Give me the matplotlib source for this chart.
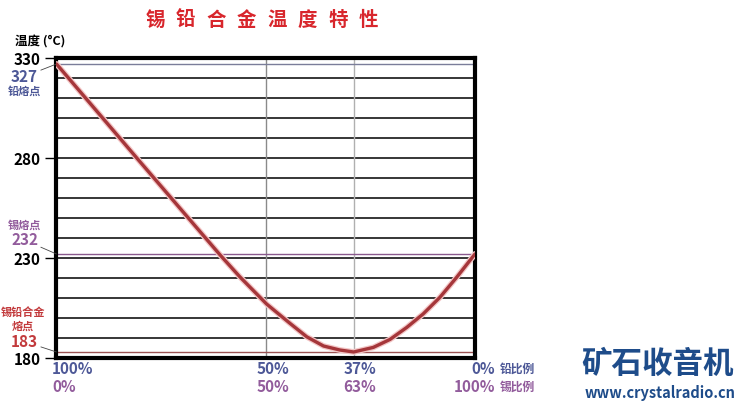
import matplotlib
matplotlib.use('Agg')
import matplotlib.pyplot as plt

plt.rcParams['font.family'] = ['Noto Sans CJK SC', 'DejaVu Sans']

# 横坐标为图上位置 (0 = 100%铅, 100 = 100%锡)，原图并非线性比例
pos = [0, 20, 39.1, 43.8, 50.2, 55.8, 59.8, 63.8, 67.7, 71, 75.7, 79.7, 83.7, 87.6, 91.6, 95.6, 100]
temp = [327, 278, 231.5, 220.6, 207, 197.3, 190.6, 186, 184, 183, 185.3, 189.3, 195.3, 202, 210.3, 220.3, 232]

yticks = [180, 230, 280, 330]
grid_y = list(range(190, 330, 10))
vgrid = [50, 71]
pb_labels = ['100%', '50%', '37%', '0%']
sn_labels = ['0%', '50%', '63%', '100%']
label_pos = [0, 50, 71, 100]

title = '锡铅合金温度特性'
blue = '#4d5897'
purple = '#925c9c'
red = '#c23a3c'

fig = plt.figure(figsize=(7.46, 4.07), dpi=100)
ax = fig.add_axes([56.5 / 746, 1 - 358 / 407, 418.5 / 746, 300 / 407])

for y in grid_y:
    ax.axhline(y, color='black', lw=1.1, zorder=1)
ax.axvline(vgrid[0], color='#8a8a8a', lw=1, zorder=1)
ax.axvline(vgrid[1], color='#b0b0b0', lw=1, zorder=1)
ax.axhline(327, color='#7a7d99', lw=1, zorder=2)
ax.axhline(232, color='#8a5a8e', lw=1, zorder=2)
ax.axhline(183, color='#9a5252', lw=1, zorder=2)

ax.plot(pos, temp, color='#f3c6c6', lw=4.2, solid_capstyle='round',
        solid_joinstyle='round', zorder=3)
ax.plot(pos, temp, color='#a5363a', lw=2.4, solid_capstyle='round',
        solid_joinstyle='round', zorder=4)

ax.set_xlim(0, 100)
ax.set_ylim(180, 330)
ax.set_xticks([])
ax.set_yticks(yticks)
ax.set_yticklabels([str(v) for v in yticks], fontsize=11, fontweight='bold')
ax.tick_params(axis='y', length=8, width=1, pad=3.5, color='black')
for s in ax.spines.values():
    s.set_linewidth(3)
    s.set_color('black')

# 左侧说明文字与引线
line = dict(arrowstyle='-', color='#444444', lw=0.6, shrinkA=0, shrinkB=0)
ax.annotate('327', xy=(0, 327), xytext=(-23, -9), textcoords='offset points',
            ha='center', va='center', fontsize=11, fontweight='bold', color=blue,
            arrowprops=line, annotation_clip=False)
ax.annotate('铅熔点', xy=(0, 327), xytext=(-23, -19.5), textcoords='offset points',
            ha='center', va='center', fontsize=8, fontweight='bold', color=blue,
            annotation_clip=False)
ax.annotate('232', xy=(0, 232), xytext=(-23, 10), textcoords='offset points',
            ha='center', va='center', fontsize=11, fontweight='bold', color=purple,
            arrowprops=line, annotation_clip=False)
ax.annotate('锡熔点', xy=(0, 232), xytext=(-23, 20.5), textcoords='offset points',
            ha='center', va='center', fontsize=8, fontweight='bold', color=purple,
            annotation_clip=False)
ax.annotate('183', xy=(0, 183), xytext=(-23, 7.5), textcoords='offset points',
            ha='center', va='center', fontsize=11, fontweight='bold', color=red,
            arrowprops=line, annotation_clip=False)
ax.annotate('锡铅合金', xy=(0, 183), xytext=(-24, 28.5), textcoords='offset points',
            ha='center', va='center', fontsize=8, fontweight='bold', color=red,
            annotation_clip=False)
ax.annotate('熔点', xy=(0, 183), xytext=(-24, 18.5), textcoords='offset points',
            ha='center', va='center', fontsize=8, fontweight='bold', color=red,
            annotation_clip=False)

fig.text(15 / 746, 1 - 42 / 407, '温度 (°C)', fontsize=9, fontweight='bold',
         ha='left', va='center')

# 底部比例标签
tr = ax.get_xaxis_transform()
offs = [-1.1, -2.2, -2.4, 4.8]
for i, p in enumerate(label_pos):
    ha = 'right' if p == 100 else 'left'
    x = p + offs[i]
    ax.text(x, -0.038, pb_labels[i], transform=tr, ha=ha, va='center',
            fontsize=11, fontweight='bold', color=blue)
    ax.text(x, -0.096, sn_labels[i], transform=tr, ha=ha, va='center',
            fontsize=11, fontweight='bold', color=purple)
ax.text(106, -0.038, '铅比例', transform=tr, ha='left', va='center',
        fontsize=8.5, fontweight='bold', color=blue)
ax.text(106, -0.096, '锡比例', transform=tr, ha='left', va='center',
        fontsize=8.5, fontweight='bold', color=purple)

# 标题 (字间距较大，逐字放置)
for i, ch in enumerate(title):
    fig.text((155.5 + i * 30.4) / 746, 1 - 20 / 407, ch, fontsize=14,
             fontweight='heavy', color='#d8262c', ha='center', va='center')

# 右下角标志
fig.text(658 / 746, 1 - 364 / 407, '矿石收音机', fontsize=22, fontweight='heavy',
         color='#1e4c8a', ha='center', va='center')
fig.text(660 / 746, 1 - 393 / 407, 'www.crystalradio.cn', fontsize=10.5,
         fontweight='bold', color='#1e4c8a', ha='center', va='center')

fig.savefig('out.png', dpi=100)
